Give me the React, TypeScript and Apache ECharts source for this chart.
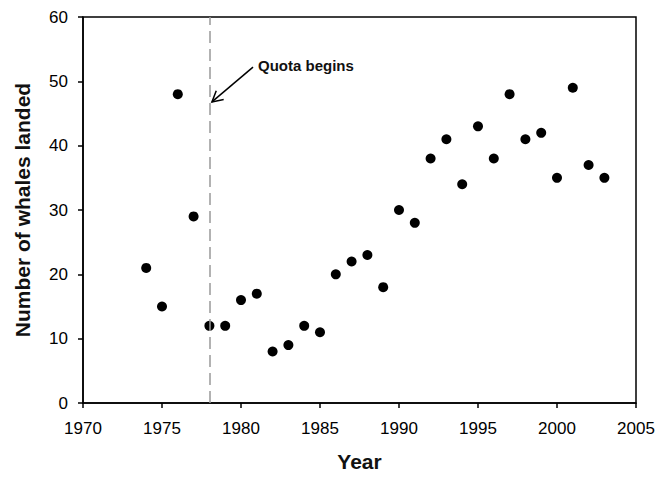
import React, { useEffect, useRef } from "react";
import * as echarts from "echarts";

const years = [1974, 1975, 1976, 1977, 1978, 1979, 1980, 1981, 1982, 1983, 1984, 1985, 1986, 1987, 1988, 1989, 1990, 1991, 1992, 1993, 1994, 1995, 1996, 1997, 1998, 1999, 2000, 2001, 2002, 2003];
const whales = [21, 15, 48, 29, 12, 12, 16, 17, 8, 9, 12, 11, 20, 22, 23, 18, 30, 28, 38, 41, 34, 43, 38, 48, 41, 42, 35, 49, 37, 35];
const quotaYear = 1978;
const arrowTip = [1978.16, 46.8];
const arrowTail = [1980.76, 52.2];
const annotationText = "Quota begins";

export default function App() {
  const ref = useRef<HTMLDivElement>(null);
  useEffect(() => {
    document.body.style.margin = "0";
    const chart = echarts.init(ref.current!, undefined, { renderer: "svg" });
    const font = "Arial, 'Liberation Sans', sans-serif";
    chart.setOption({
      animation: false,
      backgroundColor: "#fff",
      grid: { left: 83, right: 23, top: 17, bottom: 76, show: true, borderColor: "#000", borderWidth: 1.5 },
      xAxis: {
        type: "value",
        min: 1970,
        max: 2005,
        interval: 5,
        name: "Year",
        nameLocation: "middle",
        nameGap: 48,
        nameTextStyle: { fontFamily: font, fontSize: 21, fontWeight: "bold", color: "#111" },
        axisLine: { show: true, lineStyle: { color: "#000", width: 1.5 } },
        axisTick: { show: true, inside: false, length: 5, lineStyle: { color: "#000", width: 1.5 } },
        axisLabel: { fontFamily: font, fontSize: 17, color: "#000", margin: 17, formatter: (v: number) => String(v) },
        splitLine: { show: false },
      },
      yAxis: {
        type: "value",
        min: 0,
        max: 60,
        interval: 10,
        name: "Number of whales landed",
        nameLocation: "middle",
        nameGap: 50,
        nameTextStyle: { fontFamily: font, fontSize: 21, fontWeight: "bold", color: "#111" },
        axisLine: { show: true, lineStyle: { color: "#000", width: 1.5 } },
        axisTick: { show: true, inside: false, length: 5, lineStyle: { color: "#000", width: 1.5 } },
        axisLabel: { fontFamily: font, fontSize: 17, color: "#000", margin: 15, formatter: (v: number) => String(v) },
        splitLine: { show: false },
      },
      series: [
        {
          type: "scatter",
          data: years.map((y, i) => [y, whales[i]]),
          symbol: "circle",
          symbolSize: 10,
          itemStyle: { color: "#000", opacity: 1 },
          markLine: {
            silent: true,
            symbol: ["none", "none"],
            label: { show: false },
            lineStyle: { color: "#999", type: [12, 6], width: 1.5 },
            data: [{ xAxis: quotaYear }],
          },
        },
      ],
    });
    const tip = chart.convertToPixel({ gridIndex: 0 }, arrowTip) as number[];
    const tail = chart.convertToPixel({ gridIndex: 0 }, arrowTail) as number[];
    const ang = Math.atan2(tail[1] - tip[1], tail[0] - tip[0]);
    const hl = 12;
    const sp = 0.5;
    const h1 = [tip[0] + hl * Math.cos(ang + sp), tip[1] + hl * Math.sin(ang + sp)];
    const h2 = [tip[0] + hl * Math.cos(ang - sp), tip[1] + hl * Math.sin(ang - sp)];
    chart.setOption({
      graphic: [
        { type: "line", shape: { x1: tail[0], y1: tail[1], x2: tip[0], y2: tip[1] }, style: { stroke: "#000", lineWidth: 1.5 } },
        { type: "polyline", shape: { points: [h1, tip, h2] }, style: { stroke: "#000", lineWidth: 1.5, fill: null } },
        { type: "text", x: tail[0] + 5, y: tail[1] - 2, style: { text: annotationText, font: `bold 15px ${font}`, fill: "#111", textVerticalAlign: "middle" } },
      ],
    });
    return () => chart.dispose();
  }, []);
  return <div ref={ref} style={{ width: 659, height: 479 }} />;
}
